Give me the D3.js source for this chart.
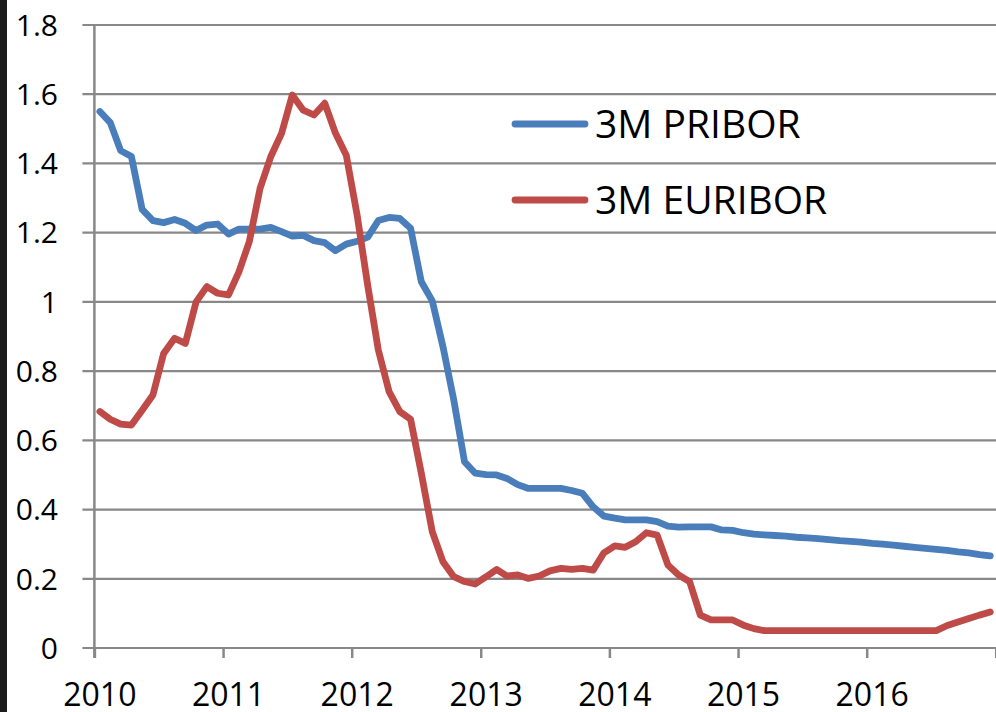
<!DOCTYPE html>
<html lang="en">
<head>
  <meta charset="UTF-8">
  <title>3M PRIBOR vs 3M EURIBOR</title>
  <script src="https://d3js.org/d3.v7.min.js"></script>
  <style>
    body {
      margin: 0;
      background: #fff;
    }

    svg text {
      font-family: "Open Sans", Carlito, Calibri, sans-serif;
      fill: #000;
    }

    .y-label {
      font-size: 30px;
    }

    .x-label {
      font-size: 32px;
    }

    .legend-label {
      font-size: 39px;
    }
  </style>
</head>
<body>
  <div id="chart"></div>

  <script>
    // Monthly values, Jan 2010 .. Dec 2016
    const startMonth = new Date(2010, 0, 1);
    const endMonth   = new Date(2017, 0, 1);

    const pribor = [
      1.55, 1.518, 1.437, 1.42, 1.267, 1.235, 1.229, 1.238, 1.227, 1.206, 1.222, 1.225,
      1.196, 1.21, 1.21, 1.21, 1.215, 1.203, 1.19, 1.192, 1.177, 1.171, 1.148, 1.167,
      1.175, 1.187, 1.235, 1.244, 1.241, 1.213, 1.058, 1.003, 0.87, 0.717, 0.538, 0.505,
      0.501, 0.5, 0.49, 0.472, 0.461, 0.461, 0.461, 0.461, 0.455, 0.447, 0.408, 0.381,
      0.375, 0.37, 0.37, 0.37, 0.365, 0.352, 0.349, 0.35, 0.35, 0.35, 0.341, 0.34,
      0.333, 0.329, 0.327, 0.325, 0.323, 0.32, 0.318, 0.316, 0.313, 0.31, 0.308, 0.306,
      0.302, 0.3, 0.297, 0.294, 0.291, 0.288, 0.285, 0.282, 0.278, 0.275, 0.27, 0.266
    ];

    const euribor = [
      0.683, 0.661, 0.647, 0.644, 0.687, 0.731, 0.851, 0.895, 0.88, 1.0, 1.044, 1.025,
      1.02, 1.087, 1.174, 1.328, 1.42, 1.487, 1.598, 1.554, 1.54, 1.574, 1.487, 1.424,
      1.25, 1.047, 0.861, 0.741, 0.683, 0.661, 0.505, 0.336, 0.249, 0.206, 0.192, 0.185,
      0.206, 0.227, 0.208, 0.211, 0.201, 0.208, 0.223, 0.23, 0.227, 0.23, 0.225, 0.275,
      0.295, 0.291, 0.307, 0.333, 0.326, 0.24, 0.211, 0.192, 0.095, 0.081, 0.081, 0.081,
      0.066, 0.056, 0.05, 0.05, 0.05, 0.05, 0.05, 0.05, 0.05, 0.05, 0.05, 0.05,
      0.05, 0.05, 0.05, 0.05, 0.05, 0.05, 0.05, 0.065, 0.075, 0.085, 0.095, 0.104
    ];

    const seriesNames = ["3M PRIBOR", "3M EURIBOR"];
    const seriesColors = ["#4a7ebb", "#be4b48"];
    const yTicks = [0, 0.2, 0.4, 0.6, 0.8, 1, 1.2, 1.4, 1.6, 1.8];
    const yearLabels = [2010, 2011, 2012, 2013, 2014, 2015, 2016];

    const width = 996, height = 712;
    const plot = { left: 94.4, right: 995.7, top: 25, bottom: 648 };

    const svg = d3.select("#chart")
      .append("svg")
      .attr("width", width)
      .attr("height", height);

    // dark strip on the left edge of the screenshot
    svg.append("rect")
      .attr("x", 0).attr("y", 0)
      .attr("width", 7).attr("height", height)
      .attr("fill", "#1c1c1c");

    const months = d3.timeMonth.range(startMonth, endMonth);
    // points sit in the middle of each month slot
    const mid = d => new Date(d.getTime() + (d3.timeMonth.offset(d, 1) - d) / 2);

    const x = d3.scaleTime()
      .domain([startMonth, endMonth])
      .range([plot.left, plot.right]);

    const y = d3.scaleLinear()
      .domain([0, 1.8])
      .range([plot.bottom, plot.top]);

    // horizontal gridlines (with short outer tick)
    svg.append("g")
      .selectAll("line")
      .data(yTicks)
      .enter()
      .append("line")
      .attr("x1", plot.left - 12)
      .attr("x2", width)
      .attr("y1", d => y(d))
      .attr("y2", d => y(d))
      .attr("stroke", "#888")
      .attr("stroke-width", 2.2);

    // y axis labels
    svg.append("g")
      .selectAll("text")
      .data(yTicks)
      .enter()
      .append("text")
      .attr("class", "y-label")
      .attr("x", 58)
      .attr("y", d => y(d))
      .attr("dy", "0.36em")
      .style("text-anchor", "end")
      .text(d => String(+d.toFixed(1)));

    // y axis line
    svg.append("line")
      .attr("x1", plot.left).attr("x2", plot.left)
      .attr("y1", plot.top).attr("y2", plot.bottom + 10)
      .attr("stroke", "#888")
      .attr("stroke-width", 2.5);

    // x axis ticks every 12 months
    const xAxis = d3.axisBottom(x)
      .tickValues(d3.timeYear.range(startMonth, d3.timeYear.offset(endMonth, 1)))
      .tickSize(10)
      .tickFormat("");

    const gx = svg.append("g")
      .attr("transform", `translate(0,${plot.bottom})`)
      .call(xAxis);
    gx.select(".domain").remove();
    gx.selectAll(".tick line")
      .attr("stroke", "#888")
      .attr("stroke-width", 2.5);

    // year labels, centred on the January slot
    svg.append("g")
      .selectAll("text")
      .data(yearLabels)
      .enter()
      .append("text")
      .attr("class", "x-label")
      .attr("x", d => x(mid(new Date(d, 0, 1))))
      .attr("y", 706)
      .style("text-anchor", "middle")
      .text(d => d);

    const line = d3.line()
      .x((d, i) => x(mid(months[i])))
      .y(d => y(d));

    [pribor, euribor].forEach((values, k) => {
      svg.append("path")
        .datum(values)
        .attr("fill", "none")
        .attr("stroke", seriesColors[k])
        .attr("stroke-width", 6.8)
        .attr("stroke-linejoin", "round")
        .attr("stroke-linecap", "round")
        .attr("d", line);
    });

    // legend
    const legendY = [124, 200];
    seriesNames.forEach((name, k) => {
      svg.append("line")
        .attr("x1", 515).attr("x2", 585)
        .attr("y1", legendY[k]).attr("y2", legendY[k])
        .attr("stroke", seriesColors[k])
        .attr("stroke-width", 6.8)
        .attr("stroke-linecap", "round");

      svg.append("text")
        .attr("class", "legend-label")
        .attr("x", 595)
        .attr("y", legendY[k] + 13.5)
        .text(name);
    });
  </script>
</body>
</html>
